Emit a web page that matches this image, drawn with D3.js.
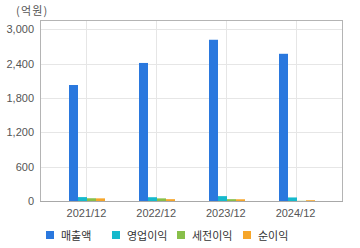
<!DOCTYPE html>
<html>
<head>
<meta charset="utf-8">
<script src="https://cdn.jsdelivr.net/npm/d3@7/dist/d3.min.js"></script>
<style>
  html, body { margin: 0; padding: 0; background: #fff; }
  svg { display: block; }
</style>
</head>
<body>
<div id="chart"></div>
<script>
const categories = ['2021/12', '2022/12', '2023/12', '2024/12'];
const seriesNames = ['매출액', '영업이익', '세전이익', '순이익'];
const seriesColors = ['#2a78de', '#16b9cc', '#88bf4a', '#f6a62a'];
const sales = [2025, 2410, 2815, 2570];
const operatingProfit = [68, 66, 85, 62];
const pretaxProfit = [48, 46, 32, 3];
const netProfit = [46, 32, 30, 14];
const yTicks = [0, 600, 1200, 1800, 2400, 3000];

const seriesValues = [sales, operatingProfit, pretaxProfit, netProfit];

const width = 360, height = 248;
const plotLeft = 40, plotRight = 342, plotTop = 20, plotBottom = 201;
const fontFamily = '"Liberation Sans", Arial, "Noto Sans CJK KR", sans-serif';

const svg = d3.select('#chart').append('svg')
    .attr('width', width)
    .attr('height', height);

const x = d3.scalePoint()
    .domain(categories)
    .range([plotLeft, plotRight])
    .padding(0.667);

const y = d3.scaleLinear()
    .domain([0, 3160])
    .range([plotBottom, plotTop]);

const barWidth = 9;

// grid lines
svg.append('g').selectAll('line')
    .data(yTicks.filter(d => d > 0))
    .enter().append('line')
    .attr('x1', plotLeft).attr('x2', plotRight)
    .attr('y1', d => Math.round(y(d)) + 0.5).attr('y2', d => Math.round(y(d)) + 0.5)
    .attr('stroke', '#e6e6e6');

svg.append('g').selectAll('line')
    .data(categories)
    .enter().append('line')
    .attr('x1', d => Math.round(x(d)) + 0.5).attr('x2', d => Math.round(x(d)) + 0.5)
    .attr('y1', plotTop).attr('y2', plotBottom)
    .attr('stroke', '#e6e6e6');

// frame
svg.append('rect')
    .attr('x', plotLeft + 0.5).attr('y', plotTop + 0.5)
    .attr('width', plotRight - plotLeft).attr('height', plotBottom - plotTop)
    .attr('fill', 'none')
    .attr('stroke', '#b4b4b4');

// bars
seriesValues.forEach((vals, si) => {
    svg.append('g').selectAll('rect')
        .data(vals)
        .enter().append('rect')
        .attr('x', (d, i) => Math.round(x(categories[i])) - 17 + si * barWidth)
        .attr('y', d => y(d))
        .attr('width', barWidth)
        .attr('height', d => plotBottom - y(d))
        .attr('fill', seriesColors[si]);
});

// bottom axis line
svg.append('line')
    .attr('x1', plotLeft).attr('x2', plotRight + 1)
    .attr('y1', plotBottom + 0.5).attr('y2', plotBottom + 0.5)
    .attr('stroke', '#a8a8a8');

// y labels
svg.append('g').selectAll('text')
    .data(yTicks)
    .enter().append('text')
    .attr('x', 34)
    .attr('y', d => y(d) + 4)
    .attr('text-anchor', 'end')
    .attr('font-family', fontFamily)
    .attr('font-size', 11)
    .attr('fill', '#555')
    .text(d => d3.format(',')(d));

// x labels
svg.append('g').selectAll('text')
    .data(categories)
    .enter().append('text')
    .attr('x', d => x(d))
    .attr('y', 217)
    .attr('text-anchor', 'middle')
    .attr('font-family', fontFamily)
    .attr('font-size', 11)
    .attr('fill', '#555')
    .text(d => d);

// unit label
svg.append('text')
    .attr('x', 16)
    .attr('y', 15)
    .attr('font-family', '"Noto Sans CJK KR", sans-serif')
    .attr('font-size', 11)
    .attr('letter-spacing', 1.2)
    .attr('fill', '#555')
    .text('(억원)');

// legend
const legendX = [46, 112, 177, 243];
const legend = svg.append('g').selectAll('g')
    .data(seriesNames)
    .enter().append('g')
    .attr('transform', (d, i) => `translate(${legendX[i]}, 231)`);

legend.append('rect')
    .attr('width', 8).attr('height', 8)
    .attr('fill', (d, i) => seriesColors[i]);

legend.append('text')
    .attr('x', 15)
    .attr('y', 8.5)
    .attr('font-family', '"Noto Sans CJK KR", sans-serif')
    .attr('font-size', 11)
    .attr('fill', '#333')
    .text(d => d);
</script>
</body>
</html>
